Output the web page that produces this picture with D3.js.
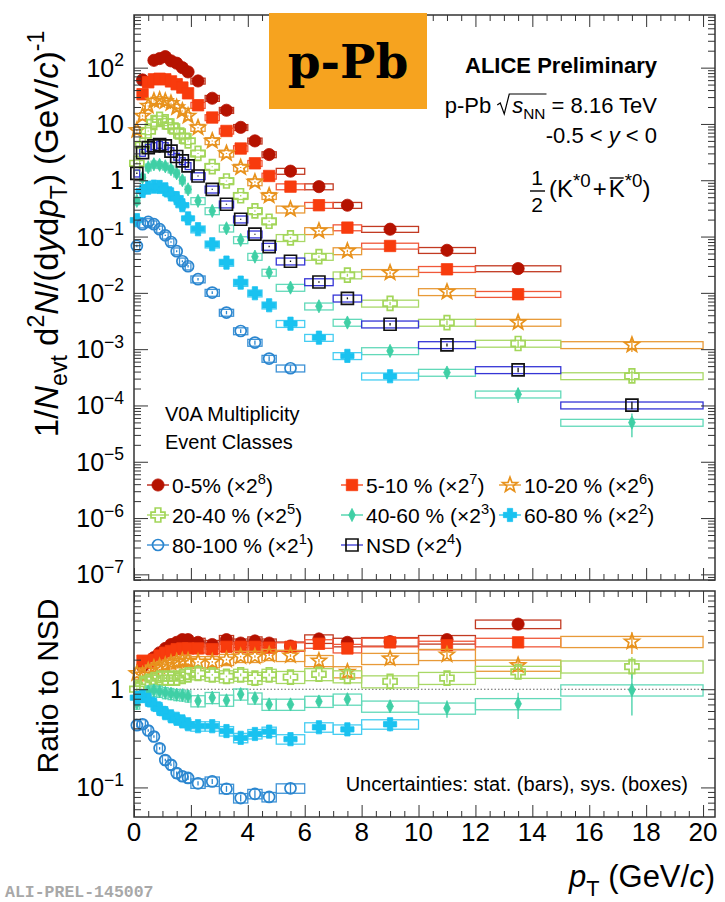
<!DOCTYPE html>
<html><head><meta charset="utf-8">
<script src="https://cdn.jsdelivr.net/npm/d3@7"></script>
<style>
body{margin:0;background:#fff;}
svg{display:block;font-family:"Liberation Sans",Arial,Helvetica,sans-serif;}
</style></head><body>
<svg id="chart" width="725" height="902"></svg>
<script>
// ---- pT binning (GeV/c) ----
const ptEdges  = [0,0.2,0.4,0.6,0.8,1.0,1.2,1.4,1.6,1.8,2.0,2.5,3.0,3.5,4.0,4.5,5,6,7,8,10,12,15,20];
const ptCenter = [0.1,0.3,0.5,0.7,0.9,1.1,1.3,1.5,1.7,1.9,2.25,2.75,3.25,3.75,4.25,4.75,5.5,6.5,7.5,9,11,13.5,17.5];

// ---- multiplicity classes ----
const classNames = ["0-5%","5-10 %","10-20 %","20-40 %","40-60 %","60-80 %","80-100 %","NSD"];
const scaleExp   = [8,7,6,5,3,2,1,4];

// ---- scaled spectra 1/Nevt d2N/(dy dpT) ----
const spec0_5   = [null,60.5,null,135,145,157,132,120,100,84,58,28.6,17.5,8.7,5.0,2.86,1.45,0.77,0.36,0.135,0.057,0.027,null];
const spec5_10  = [null,33.7,55,62,63.5,62,57,50.7,44.3,35,21.5,13,7.5,3.66,2.0,1.19,0.77,0.36,0.144,0.068,0.0262,0.00944,null];
const spec10_20 = [7.7,13.9,20.9,25.6,26.7,25.3,23.3,19.6,17,13.9,8.6,5.0,3.0,1.68,0.93,0.53,0.305,0.126,0.0554,0.0227,0.0104,0.00297,0.00119];
const spec20_40 = [2.0,4.2,7.5,10.6,12.1,10.9,9.2,7.5,6.1,5.0,3.0,1.74,0.97,0.53,0.285,0.187,0.095,0.044,0.0206,0.0065,0.00297,0.00126,0.000334];
const spec40_60 = [0.43,1.12,1.70,1.92,1.88,1.77,1.57,1.33,1.0,0.69,0.43,0.285,0.14,0.087,0.044,0.023,0.0124,0.00578,0.00297,0.00093,0.000384,0.000158,0.0000497];
const spec60_80 = [0.195,0.645,0.74,0.77,0.76,0.69,0.56,0.48,0.36,0.21,0.135,0.073,0.0345,0.0152,0.00984,0.00602,0.00283,0.0016,0.00076,0.00033,null,null,null];
const spec80_100= [0.068,0.166,0.182,0.166,0.135,0.105,0.080,0.055,0.0364,0.0297,0.0175,0.0101,0.00447,0.0021,0.00131,0.00068,0.000458,null,null,null,null,null,null];
const specNSD   = [1.33,3.1,3.8,4.07,4.3,4.07,3.3,2.64,2.2,1.8,1.19,0.69,0.375,0.203,0.11,0.0664,0.0364,0.0156,0.008,0.00277,0.00119,0.000428,0.000101];

// ---- ratios to NSD ----
const ratio0_5   = [null,1.7,null,2.1,2.35,2.6,2.85,3.0,3.2,3.2,3.0,2.85,3.2,2.95,3.1,2.95,2.75,3.25,3.0,3.05,3.2,4.6,null];
const ratio5_10  = [null,1.95,1.85,2.0,2.2,2.35,2.45,2.55,2.6,2.6,2.6,2.55,2.7,2.7,2.7,2.65,2.7,2.9,2.6,3.0,2.8,3.0,null];
const ratio10_20 = [1.45,1.4,1.55,1.65,1.7,1.75,1.85,1.9,1.95,1.95,1.9,1.9,2.0,2.15,2.15,2.25,2.2,1.95,1.5,2.05,2.25,1.75,3.05];
const ratio20_40 = [1.0,1.15,1.2,1.25,1.3,1.3,1.3,1.3,1.35,1.4,1.45,1.4,1.35,1.4,1.3,1.4,1.33,1.42,1.35,1.2,1.3,1.5,1.7];
const ratio40_60 = [0.72,0.85,0.95,0.97,0.95,0.92,0.9,0.88,0.87,0.85,0.76,0.82,0.77,0.89,0.81,0.7,0.7,0.75,0.79,0.67,0.64,0.71,0.98];
const ratio60_80 = [0.82,0.85,0.78,0.7,0.63,0.57,0.53,0.5,0.47,0.44,0.42,0.42,0.375,0.32,0.35,0.37,0.31,0.41,0.39,0.44,null,null,null];
const ratio80_100= [0.43,0.44,0.38,0.33,0.25,0.19,0.17,0.14,0.13,0.125,0.11,0.115,0.097,0.078,0.086,0.08,0.098,null,null,null,null,null,null];

// ---- relative uncertainties ----
const stat0_5   = [0,.03,0,.02,.02,.02,.02,.02,.02,.02,.02,.02,.02,.02,.03,.03,.03,.04,.05,.06,.08,.12,0];
const stat5_10  = [0,.03,.03,.02,.02,.02,.02,.02,.02,.02,.02,.02,.02,.02,.03,.03,.03,.04,.05,.06,.08,.10,0];
const stat10_20 = [.04,.03,.02,.02,.02,.02,.02,.02,.02,.02,.02,.02,.02,.02,.03,.03,.03,.04,.05,.06,.09,.13,.25];
const stat20_40 = [.04,.03,.02,.02,.02,.02,.02,.02,.02,.02,.02,.02,.02,.03,.03,.03,.04,.05,.06,.07,.10,.14,.25];
const stat40_60 = [.05,.03,.02,.02,.02,.02,.02,.02,.02,.03,.03,.03,.03,.04,.04,.05,.06,.08,.10,.14,.20,.30,.45];
const stat60_80 = [.05,.03,.02,.02,.02,.02,.02,.03,.03,.03,.03,.04,.04,.05,.06,.07,.08,.10,.12,.15,0,0,0];
const stat80_100= [.05,.03,.03,.03,.03,.03,.03,.04,.04,.05,.05,.06,.07,.08,.09,.10,.12,0,0,0,0,0,0];
const statNSD   = [.03,.02,.02,.02,.02,.02,.02,.02,.02,.02,.02,.02,.02,.02,.02,.03,.03,.03,.04,.05,.06,.09,.15];
const sysSpec   = [0.12,0.12,0.14,0.14,0.14,0.14,0.14,0.14];
const sysRatio  = [0.10,0.10,0.13,0.14,0.13,0.11,0.11];

// ---- axis ticks ----
const specLabelTicks  = [1e2,1e1,1,1e-1,1e-2,1e-3,1e-4,1e-5,1e-6,1e-7];
const ratioLabelTicks = [1,1e-1];
const ptLabelTicks    = [0,2,4,6,8,10,12,14,16,18,20];

const spectra = [spec0_5,spec5_10,spec10_20,spec20_40,spec40_60,spec60_80,spec80_100,specNSD];
const ratios  = [ratio0_5,ratio5_10,ratio10_20,ratio20_40,ratio40_60,ratio60_80,ratio80_100];
const stats   = [stat0_5,stat5_10,stat10_20,stat20_40,stat40_60,stat60_80,stat80_100,statNSD];

// ---- marker appearance per class ----
const classStyle = [
  {color:"#b51200", box:"#c23a22", shape:"circle",  size:6.1},
  {color:"#f83b0d", box:"#f0583a", shape:"square",  size:5.7},
  {color:"#e8921c", box:"#e89a38", shape:"star",    size:7.8},
  {color:"#a3d65a", box:"#a8d866", shape:"oplus",   size:7.0},
  {color:"#3fcfa5", box:"#62d9b9", shape:"diamond", size:6.6},
  {color:"#19c2f0", box:"#45cdf2", shape:"plus",    size:6.6},
  {color:"#2b86cf", box:"#3d92d6", shape:"ocircle", size:5.5},
  {color:"#111111", box:"#3535d6", shape:"osquare", size:6.0}
];

function markerPath(shape, r){
  if (shape==="circle"||shape==="ocircle")
    return `M${-r},0A${r},${r} 0 1,0 ${r},0A${r},${r} 0 1,0 ${-r},0Z`;
  if (shape==="square"||shape==="osquare")
    return `M${-r},${-r}H${r}V${r}H${-r}Z`;
  if (shape==="diamond")
    return `M0,${-r}L${r*0.5},0L0,${r}L${-r*0.5},0Z`;
  if (shape==="plus"||shape==="oplus"){
    const w = r*0.4;
    return `M${-w},${-r}H${w}V${-w}H${r}V${w}H${w}V${r}H${-w}V${w}H${-r}V${-w}H${-w}Z`;
  }
  if (shape==="star"){
    const pts=[];
    for(let k=0;k<10;k++){
      const rr = k%2===0 ? r : r*0.42;
      const a = -Math.PI/2 + k*Math.PI/5;
      pts.push([rr*Math.cos(a), rr*Math.sin(a)]);
    }
    return "M"+pts.map(p=>p[0].toFixed(2)+","+p[1].toFixed(2)).join("L")+"Z";
  }
}
function drawMarker(g, st, cx, cy){
  const open = st.shape==="star"||st.shape==="oplus"||st.shape==="ocircle"||st.shape==="osquare";
  g.append("path").attr("d", markerPath(st.shape, st.size))
    .attr("transform",`translate(${cx},${cy})`)
    .attr("fill", open ? "none" : st.color)
    .attr("stroke", st.color)
    .attr("stroke-width", open ? 1.7 : 0.8);
}

// rich text with italic / sub / sup pieces
function rich(parent, px, py, parts, o){
  const size = o.size, supScale = o.supScale || 0.7;
  const t = parent.append("text").attr("x",px).attr("y",py)
    .attr("font-size",size).attr("text-anchor",o.anchor||"start").attr("fill",o.fill||"#000");
  if (o.weight) t.attr("font-weight",o.weight);
  if (o.family) t.attr("font-family",o.family);
  if (o.rotate) t.attr("transform",`rotate(${o.rotate},${px},${py})`);
  let shift = 0;
  parts.forEach(p=>{
    const want = p.sub ? 0.28*size : (p.sup ? -0.42*size : 0);
    const ts = t.append("tspan").text(p.t).attr("dy", want-shift);
    if (p.dx) ts.attr("dx", p.dx);
    shift = want;
    if (p.sub||p.sup) ts.attr("font-size", size*supScale);
    if (p.it) ts.attr("font-style","italic");
  });
  return t;
}
function powLabel(v){
  if (v===1) return [{t:"1"}];
  if (v===10) return [{t:"10"}];
  const e = Math.round(Math.log10(v));
  return [{t:"10"},{t:(e<0?"\u2212":"")+Math.abs(e), sup:true}];
}

const svg = d3.select("#chart");
const X0 = 134, X1 = 715;
const TOP0 = 15, TOP1 = 580, BOT0 = 591, BOT1 = 817;
const x    = d3.scaleLinear().domain([0,20.42]).range([X0,X1]);
const yTop = d3.scaleLog().domain([Math.pow(10,-7.1), Math.pow(10,2.935)]).range([TOP1,TOP0]);
const yBot = d3.scaleLog().domain([0.05,10]).range([BOT1,BOT0]);

function logTicks(scale){
  const [a,b] = scale.domain(), out=[];
  for (let e=Math.floor(Math.log10(a))-1; e<=Math.ceil(Math.log10(b)); e++)
    for (let k=1;k<=9;k++){ const v=k*Math.pow(10,e); if (v>=a*1.0001 && v<=b*0.9999) out.push(v); }
  return out;
}
function tickGroup(axis, tx, ty){
  const g = svg.append("g").attr("transform",`translate(${tx},${ty})`).call(axis.tickFormat(""));
  g.select(".domain").remove();
  g.selectAll("line").attr("stroke","#333").attr("stroke-width",1);
  return g;
}
function frameTicks(yScale, y0, y1){
  const all = logTicks(yScale);
  const major = all.filter(v=>Math.abs(Math.log10(v)-Math.round(Math.log10(v)))<1e-6);
  const minor = all.filter(v=>!major.includes(v));
  tickGroup(d3.axisLeft(yScale).tickValues(minor).tickSize(-7), X0, 0);
  tickGroup(d3.axisLeft(yScale).tickValues(major).tickSize(-14), X0, 0);
  tickGroup(d3.axisRight(yScale).tickValues(minor).tickSize(-7), X1, 0);
  tickGroup(d3.axisRight(yScale).tickValues(major).tickSize(-14), X1, 0);
  const xMinor = d3.range(0,20.01,0.5).filter(v=>v%2!==0);
  const xMajor = d3.range(0,20.01,2);
  tickGroup(d3.axisBottom(x).tickValues(xMinor).tickSize(-6), 0, y1);
  tickGroup(d3.axisBottom(x).tickValues(xMajor).tickSize(-12), 0, y1);
  tickGroup(d3.axisTop(x).tickValues(xMinor).tickSize(-6), 0, y0);
  tickGroup(d3.axisTop(x).tickValues(xMajor).tickSize(-12), 0, y0);
  svg.append("rect").attr("x",X0).attr("y",y0).attr("width",X1-X0).attr("height",y1-y0)
    .attr("fill","none").attr("stroke","#333").attr("stroke-width",1.5);
}

// ---- draw one data series: sys boxes, stat bars, markers ----
function drawSeries(g, vals, stat, sys, st, yScale){
  const layer = g.append("g");
  vals.forEach((v,j)=>{
    if (v==null) return;
    const xl = x(ptEdges[j]), xr = x(ptEdges[j+1]);
    layer.append("rect").attr("x",xl).attr("width",xr-xl)
      .attr("y",yScale(v*(1+sys))).attr("height",yScale(v*(1-sys))-yScale(v*(1+sys)))
      .attr("fill","none").attr("stroke",st.box).attr("stroke-width",1.3);
  });
  vals.forEach((v,j)=>{
    if (v==null || !stat[j]) return;
    layer.append("line").attr("x1",x(ptCenter[j])).attr("x2",x(ptCenter[j]))
      .attr("y1",yScale(v*(1+stat[j]))).attr("y2",yScale(v*(1-stat[j])))
      .attr("stroke",st.color).attr("stroke-width",1.3);
  });
  vals.forEach((v,j)=>{
    if (v==null) return;
    drawMarker(layer, st, x(ptCenter[j]), yScale(v));
  });
}

// ===== upper panel: spectra =====
const gTop = svg.append("g");
spectra.forEach((vals,i)=> drawSeries(gTop, vals, stats[i], sysSpec[i], classStyle[i], yTop));
frameTicks(yTop, TOP0, TOP1);
specLabelTicks.forEach(v=> rich(svg, 124, yTop(v)+9, powLabel(v), {size:25, anchor:"end"}));

// ===== lower panel: ratios =====
svg.append("line").attr("x1",x(0)).attr("x2",x(20)).attr("y1",yBot(1)).attr("y2",yBot(1))
  .attr("stroke","#666").attr("stroke-width",1.1).attr("stroke-dasharray","1.5,2");
const gBot = svg.append("g");
ratios.forEach((vals,i)=> drawSeries(gBot, vals, stats[i], sysRatio[i], classStyle[i], yBot));
frameTicks(yBot, BOT0, BOT1);
ratioLabelTicks.forEach(v=> rich(svg, 124, yBot(v)+9, powLabel(v), {size:25, anchor:"end"}));
ptLabelTicks.forEach(v=> svg.append("text").attr("x",x(v)).attr("y",841)
  .attr("text-anchor","middle").attr("font-size",26).text(v));

// ===== axis titles =====
rich(svg, 58, 234, [{t:"1/"},{t:"N",it:true},{t:"evt",sub:true},{t:" d"},{t:"2",sup:true},{t:"N",it:true},
  {t:"/(d"},{t:"y",it:true},{t:"d"},{t:"p",it:true},{t:"T",sub:true},{t:") (GeV/"},{t:"c",it:true},{t:")"},{t:"-1",sup:true}],
  {size:33, anchor:"middle", rotate:-90});
rich(svg, 58, 686, [{t:"Ratio to NSD"}], {size:30, anchor:"middle", rotate:-90});
rich(svg, 715, 887, [{t:"p",it:true},{t:"T",sub:true},{t:" (GeV/"},{t:"c",it:true},{t:")"}], {size:31, anchor:"end"});

// ===== header =====
svg.append("rect").attr("x",269).attr("y",13).attr("width",158).attr("height",96).attr("fill","#f6a31f");
svg.append("text").attr("x",348).attr("y",78).attr("text-anchor","middle")
  .attr("font-family","'DejaVu Serif',serif").attr("font-weight","bold").attr("font-size",47).text("p-Pb");

rich(svg, 657, 73, [{t:"ALICE Preliminary"}], {size:22, anchor:"end", weight:"bold"});
const sq = rich(svg, 657, 113, [{t:"p-Pb "},{t:"s",it:true,dx:15},{t:"NN",sub:true},{t:" = 8.16 TeV"}], {size:22, anchor:"end"});
{
  const n = sq.node();
  const sx = n.getStartPositionOfChar(5).x, ex = n.getEndPositionOfChar(7).x;
  const b = 113;
  svg.append("path").attr("d",`M${sx-15},${b-8}L${sx-12},${b-10}L${sx-8},${b+1}L${sx-3},${b-19}H${ex+1}`)
    .attr("fill","none").attr("stroke","#000").attr("stroke-width",1.2);
}
rich(svg, 657, 143, [{t:"-0.5 < "},{t:"y",it:true},{t:" < 0"}], {size:22, anchor:"end"});
// one-half prefactor drawn as a stacked fraction
svg.append("text").attr("x",537).attr("y",185).attr("text-anchor","middle").attr("font-size",21).text("1");
svg.append("line").attr("x1",530).attr("x2",545).attr("y1",191).attr("y2",191).attr("stroke","#000").attr("stroke-width",1.4);
svg.append("text").attr("x",537).attr("y",212).attr("text-anchor","middle").attr("font-size",21).text("2");
const kk = rich(svg, 549, 197, [{t:"(K"},{t:"*0",sup:true},{t:"+",dx:2},{t:"K",dx:2},{t:"*0",sup:true},{t:")"}],
  {size:24, anchor:"start", supScale:0.78});
{
  const n = kk.node();
  const s = n.getStartPositionOfChar(5).x, e = n.getEndPositionOfChar(5).x;
  svg.append("line").attr("x1",s+1).attr("x2",e-1).attr("y1",197-19).attr("y2",197-19).attr("stroke","#000").attr("stroke-width",1.3);
}

// ===== legend =====
rich(svg, 165, 421, [{t:"V0A Multiplicity"}], {size:20});
rich(svg, 165, 449, [{t:"Event Classes"}], {size:20});
const legCols = [158, 352, 510], legRows = [485, 515, 545];
classNames.forEach((name,i)=>{
  const cx = legCols[i%3], cy = legRows[Math.floor(i/3)];
  const st = classStyle[i];
  svg.append("line").attr("x1",cx-11).attr("x2",cx+11).attr("y1",cy).attr("y2",cy)
    .attr("stroke", i===7 ? st.box : st.color).attr("stroke-width",1.3);
  drawMarker(svg, st, cx, cy);
  rich(svg, cx+14, cy+8, [{t:name+" (\u00d72"},{t:String(scaleExp[i]),sup:true},{t:")"}], {size:21});
});

rich(svg, 688, 791, [{t:"Uncertainties: stat. (bars), sys. (boxes)"}], {size:20, anchor:"end"});
svg.append("text").attr("x",5).attr("y",897).attr("font-family","'Liberation Mono','DejaVu Sans Mono',monospace")
  .attr("font-weight","bold").attr("font-size",16.5).attr("fill","#a8a8a8").text("ALI-PREL-145007");
</script>
</body></html>
